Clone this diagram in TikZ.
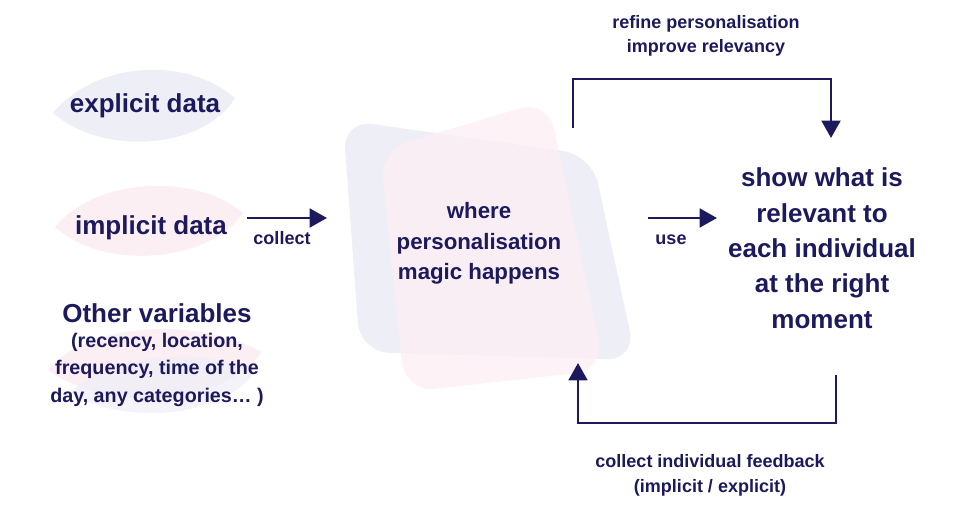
\documentclass[tikz,border=0pt]{standalone}
\usepackage{fontspec}
\setmainfont{Liberation Sans}
\usetikzlibrary{arrows.meta,positioning}
\definecolor{Ink}{HTML}{1C1A5C}
\definecolor{Haze}{HTML}{EEEEF6}
\definecolor{Blush}{HTML}{FCEFF4}
\tikzset{
  big/.style={text=Ink,font=\bfseries\fontsize{19.5}{26.5}\selectfont,align=center,inner sep=0pt,anchor=base},
  mid/.style={text=Ink,font=\bfseries\fontsize{16.7}{23.2}\selectfont,align=center,inner sep=0pt,anchor=base},
  sub/.style={text=Ink,font=\bfseries\fontsize{14.8}{20.6}\selectfont,align=center,inner sep=0pt,anchor=base},
  tag/.style={text=Ink,font=\bfseries\fontsize{13.5}{18.5}\selectfont,align=center,inner sep=0pt,anchor=base},
  flow/.style={-{Triangle[length=13pt,width=14pt]},draw=Ink,line width=2.2pt},
  blob/.style={rounded corners=22pt}
}
\begin{document}
\begin{tikzpicture}[x=0.75pt,y=-0.75pt]
  \useasboundingbox (0,0) rectangle (960,520);
  % soft shapes behind the texts
  \fill[Haze] (53,113) .. controls (95,62) and (185,55) .. (235,98) .. controls (205,148) and (105,158) .. cycle;
  \fill[Blush] (55,227) .. controls (95,178) and (195,172) .. (243,213) .. controls (210,262) and (105,272) .. cycle;
  \fill[Blush] (48,370) .. controls (90,320) and (200,318) .. (262,352) .. controls (225,405) and (110,415) .. cycle;
  \fill[Haze,opacity=.7] (70,392) .. controls (120,350) and (210,348) .. (255,372) .. controls (220,420) and (120,425) .. cycle;
  \fill[Haze,blob] (343,120) -- (592,155) -- (636,360) -- (360,352) -- cycle;
  \fill[Blush,blob,opacity=.75] (380,150) -- (548,100) -- (605,370) -- (405,392) -- cycle;

  % texts (base = last line)
  \node[big] (explicit) at (145,113) {explicit data};
  \node[big] (implicit) at (151,235) {implicit data};
  \node[big] (others) at (157,322) {Other variables};
  \node[sub] (othersub) at (157,402) {(recency, location,\\frequency, time of the\\day, any categories\dots\ )};
  \node[mid] (magic) at (479,280) {where\\personalisation\\magic happens};
  \node[big] (show) at (822,328) {show what is\\relevant to\\each individual\\at the right\\moment};
  \node[tag] (collect) at (282,245) {collect};
  \node[tag] (use) at (671,245) {use};
  \node[tag] (refine) at (706,53) {refine personalisation\\improve relevancy};
  \node[tag] (feedback) at (710,492) {collect individual feedback\\(implicit / explicit)};

  \coordinate (inA) at (247,218);
  \coordinate (inB) at (327,218);
  \coordinate (useA) at (648,218);
  \coordinate (useB) at (717,218);
  \coordinate (fwdA) at (573,128);
  \coordinate (fwdB) at (831,138);
  \coordinate (backA) at (836,375);
  \coordinate (backB) at (578,363);
  \draw[flow] (inA) -- (inB);
  \draw[flow] (useA) -- (useB);
  \draw[flow] (fwdA) -- ++(0,-49) -| (fwdB);
  \draw[flow] (backA) -- ++(0,48) -| (backB);
\end{tikzpicture}
\end{document}
